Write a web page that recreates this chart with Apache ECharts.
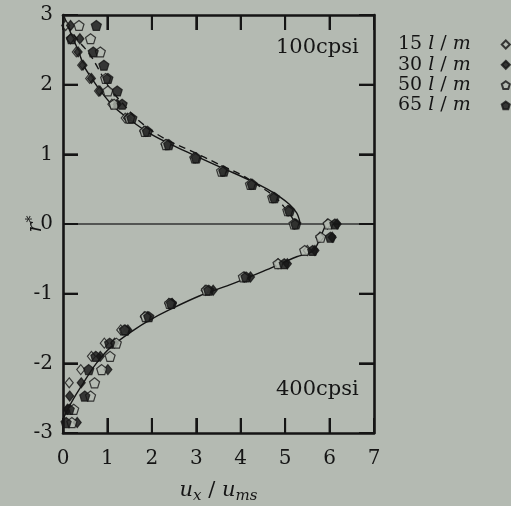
<!DOCTYPE html>
<html>
<head>
<meta charset="utf-8">
<script src="https://cdn.jsdelivr.net/npm/echarts@6/dist/echarts.min.js"></script>
<style>
  html, body { margin: 0; padding: 0; background: #b4bab2; }
  #chart { width: 511px; height: 506px; }
</style>
</head>
<body>
<div id="chart"></div>
<script>
// Axis ticks and labels
const xTickValues = [0, 1, 2, 3, 4, 5, 6, 7];
const xTickLabels = ['0', '1', '2', '3', '4', '5', '6', '7'];
const yTickValues = [-3, -2, -1, 0, 1, 2, 3];
const yTickLabels = ['-3', '-2', '-1', '0', '1', '2', '3'];

// Flow rates (legend entries)
const flowNames = ['15 l/m', '30 l/m', '50 l/m', '65 l/m'];

// Measured velocity profiles: [u_x/u_ms, r*]
const flow15 = [
  [0.06, 2.85], [0.17, 2.66], [0.30, 2.47], [0.42, 2.28], [0.60, 2.09], [0.80, 1.91], [1.10, 1.72], [1.40, 1.52],
  [1.82, 1.33], [2.30, 1.14], [2.95, 0.95], [3.58, 0.76], [4.22, 0.57], [4.72, 0.38], [5.06, 0.19], [5.20, 0],
  [5.95, 0], [5.78, -0.19], [5.50, -0.38], [4.84, -0.57], [4.08, -0.76], [3.20, -0.95], [2.38, -1.14], [1.83, -1.33],
  [1.30, -1.52], [0.93, -1.71], [0.64, -1.90], [0.40, -2.09], [0.14, -2.28]
];
const flow30 = [
  [0.17, 2.85], [0.38, 2.66], [0.34, 2.47], [0.45, 2.28], [0.64, 2.09], [0.83, 1.91], [1.22, 1.72], [1.45, 1.52],
  [1.86, 1.33], [2.34, 1.14], [2.98, 0.95], [3.60, 0.76], [4.24, 0.57], [4.74, 0.38], [5.08, 0.19], [5.22, 0],
  [6.17, 0], [6.06, -0.19], [5.67, -0.38], [5.05, -0.57], [4.22, -0.76], [3.38, -0.95], [2.46, -1.14], [1.90, -1.33],
  [1.46, -1.52], [1.16, -1.71], [0.84, -1.90], [1.01, -2.09], [0.41, -2.28], [0.15, -2.47], [0.10, -2.66], [0.32, -2.85]
];
const flow50 = [
  [0.36, 2.85], [0.62, 2.66], [0.84, 2.47], [0.96, 2.09], [1.01, 1.91], [1.15, 1.72], [1.50, 1.52],
  [1.84, 1.33], [2.32, 1.14], [2.97, 0.95], [3.57, 0.76], [4.22, 0.57], [4.72, 0.38], [5.06, 0.19], [5.20, 0],
  [5.97, 0], [5.80, -0.19], [5.44, -0.38], [4.84, -0.57], [4.06, -0.76], [3.23, -0.95], [2.40, -1.14], [1.86, -1.33],
  [1.38, -1.52], [1.20, -1.71], [1.06, -1.90], [0.87, -2.09], [0.71, -2.28], [0.62, -2.47], [0.24, -2.66], [0.20, -2.85]
];
const flow65 = [
  [0.75, 2.85], [0.19, 2.66], [0.68, 2.47], [0.92, 2.28], [1.01, 2.09], [1.22, 1.91], [1.33, 1.72], [1.55, 1.52],
  [1.90, 1.33], [2.38, 1.14], [3.00, 0.95], [3.62, 0.76], [4.26, 0.57], [4.76, 0.38], [5.10, 0.19], [5.24, 0],
  [6.12, 0], [6.02, -0.19], [5.62, -0.38], [4.98, -0.57], [4.12, -0.76], [3.28, -0.95], [2.44, -1.14], [1.93, -1.33],
  [1.40, -1.52], [1.05, -1.71], [0.74, -1.90], [0.58, -2.09], [0.49, -2.47], [0.14, -2.66], [0.07, -2.85]
];

// Predicted profiles
const upperSolid = [
  [0.03, 2.97], [0.20, 2.70], [0.35, 2.48], [0.47, 2.27], [0.67, 2.07], [0.88, 1.88], [1.15, 1.68], [1.50, 1.50],
  [1.95, 1.30], [2.50, 1.12], [3.08, 0.95], [3.60, 0.80], [4.20, 0.63], [4.60, 0.50], [4.88, 0.39], [5.10, 0.28],
  [5.26, 0.16], [5.32, 0.06], [5.33, 0]
];
const upperDashed = [
  [0.08, 2.86], [0.35, 2.63], [0.62, 2.42], [0.82, 2.20], [1.02, 1.98], [1.30, 1.76], [1.75, 1.46], [2.30, 1.22],
  [2.88, 1.05], [3.50, 0.86], [4.00, 0.71], [4.43, 0.54], [4.75, 0.40], [4.97, 0.25], [5.15, 0.10], [5.22, 0]
];
const lowerSolid = [
  [0.00, -2.80], [0.20, -2.55], [0.45, -2.29], [0.75, -2.00], [1.09, -1.76], [1.60, -1.52], [1.95, -1.38],
  [2.40, -1.23], [3.08, -1.03], [3.75, -0.875], [4.50, -0.68], [5.26, -0.47], [5.60, -0.40], [5.72, -0.30],
  [5.86, -0.09], [5.92, 0]
];

const X_MIN = xTickValues[0], X_MAX = xTickValues[xTickValues.length - 1];
const Y_MIN = yTickValues[0], Y_MAX = yTickValues[yTickValues.length - 1];
const centerLine = [[X_MIN, 0], [X_MAX, 0]];

const BG = '#b4bab2';
const INK = '#151515';
const FONT = 'DejaVu Serif';
const TICK_LEN = 15;
const pentagon = 'path://M0,-10L9.5,-3.1L5.9,8.1L-5.9,8.1L-9.5,-3.1Z';

function markerSeries(name, data, symbol, filled, size) {
  return {
    name, type: 'scatter', data, symbol, symbolSize: size, z: 5,
    itemStyle: { color: filled ? INK : BG, borderColor: INK, borderWidth: 1.2 }
  };
}
function curveSeries(data, dashed) {
  return {
    type: 'line', data, smooth: 0.35, showSymbol: false, symbol: 'none', z: 4, silent: true,
    lineStyle: { color: INK, width: 1.4, type: dashed ? [7, 5] : 'solid' }
  };
}

// Inward ticks on all four sides of the frame, at the axis tick values.
// Side codes: 0 bottom, 1 top, 2 left, 3 right.
const frameTicks = []
  .concat(xTickValues.map(v => ({ at: [v, Y_MIN], side: 0 })))
  .concat(xTickValues.map(v => ({ at: [v, Y_MAX], side: 1 })))
  .concat(yTickValues.map(v => ({ at: [X_MIN, v], side: 2 })))
  .concat(yTickValues.map(v => ({ at: [X_MAX, v], side: 3 })));
const tickDir = [[0, -1], [0, 1], [1, 0], [-1, 0]];

function axisBase(min, max, position) {
  return {
    type: 'value', min, max, interval: 1, position,
    axisLine: { show: true, onZero: false, lineStyle: { color: INK, width: 2.6 } },
    axisTick: { show: true, inside: true, length: TICK_LEN, lineStyle: { color: INK, width: 2 } },
    splitLine: { show: false }
  };
}

const chart = echarts.init(document.getElementById('chart'));
chart.setOption({
  backgroundColor: BG,
  animation: false,
  textStyle: { fontFamily: FONT, color: INK },
  grid: { left: 63, right: 137, top: 15, bottom: 73, outerBoundsMode: 'none' },
  xAxis: [Object.assign(axisBase(X_MIN, X_MAX, 'bottom'), {
    axisLabel: { fontFamily: FONT, fontSize: 20, color: INK, margin: 16,
      formatter: v => xTickLabels[xTickValues.indexOf(v)] },
    name: '{i|u}{s|x}{n| / }{i|u}{s|ms}', nameLocation: 'middle', nameGap: 47, nameMoveOverlap: false,
    nameTextStyle: { rich: {
      i: { fontFamily: FONT, fontStyle: 'italic', fontSize: 21, lineHeight: 30, verticalAlign: 'top', color: INK },
      n: { fontFamily: FONT, fontSize: 21, lineHeight: 30, verticalAlign: 'top', color: INK },
      s: { fontFamily: FONT, fontStyle: 'italic', fontSize: 15, lineHeight: 21, verticalAlign: 'top', padding: [9, 0, 0, 0], color: INK }
    } }
  }), Object.assign(axisBase(X_MIN, X_MAX, 'top'), { axisLabel: { show: false } })],
  yAxis: [Object.assign(axisBase(Y_MIN, Y_MAX, 'left'), {
    axisLabel: { fontFamily: FONT, fontSize: 20, color: INK, margin: 10,
      formatter: v => yTickLabels[yTickValues.indexOf(v)] },
    name: '{i|r}{p|*}', nameLocation: 'middle', nameGap: 14, nameRotate: 90, nameMoveOverlap: false,
    nameTextStyle: { rich: {
      i: { fontFamily: FONT, fontStyle: 'italic', fontSize: 21, lineHeight: 24, verticalAlign: 'top', color: INK },
      p: { fontFamily: FONT, fontSize: 14, lineHeight: 12, verticalAlign: 'top', color: INK }
    } }
  }), Object.assign(axisBase(Y_MIN, Y_MAX, 'right'), { axisLabel: { show: false } })],
  legend: {
    data: flowNames, orient: 'vertical', left: 398, top: 35, align: 'right', padding: 0,
    itemWidth: 8, itemHeight: 8, itemGap: 1.3, selectedMode: false,
    formatter: name => {
      const parts = name.split(' ');
      return '{n|' + parts[0] + ' }{i|l}{n| / }{i|m}{g| }';
    },
    textStyle: { rich: {
      n: { fontFamily: FONT, fontSize: 19, lineHeight: 20.5, color: INK },
      i: { fontFamily: FONT, fontStyle: 'italic', fontSize: 19, lineHeight: 20.5, color: INK },
      g: { fontSize: 10, width: 26, lineHeight: 20.5 }
    } }
  },
  series: [
    { type: 'line', data: centerLine, showSymbol: false, symbol: 'none', silent: true, z: 3,
      lineStyle: { color: '#333', width: 1.3 } },
    curveSeries(upperSolid, false),
    curveSeries(upperDashed, true),
    curveSeries(lowerSolid, false),
    markerSeries(flowNames[0], flow15, 'diamond', false, [8, 10]),
    markerSeries(flowNames[1], flow30, 'diamond', true, [8, 10]),
    markerSeries(flowNames[2], flow50, pentagon, false, 10),
    markerSeries(flowNames[3], flow65, pentagon, true, 10)
  ]
});

// Frame ticks and panel captions, positioned through the grid's own scales
const tickShapes = frameTicks.map(t => {
  const p = chart.convertToPixel({ gridIndex: 0 }, t.at);
  const d = tickDir[t.side];
  return {
    type: 'line', silent: true, z: 100,
    shape: { x1: p[0], y1: p[1], x2: p[0] + d[0] * TICK_LEN, y2: p[1] + d[1] * TICK_LEN },
    style: { stroke: INK, lineWidth: 2 }
  };
});
chart.setOption({
  graphic: tickShapes.concat([
    { type: 'text', left: 276, top: 37, z: 100, style: { text: '100cpsi', font: '21px "DejaVu Serif"', fill: INK } },
    { type: 'text', left: 276, top: 379, z: 100, style: { text: '400cpsi', font: '21px "DejaVu Serif"', fill: INK } }
  ])
});
</script>
</body>
</html>
